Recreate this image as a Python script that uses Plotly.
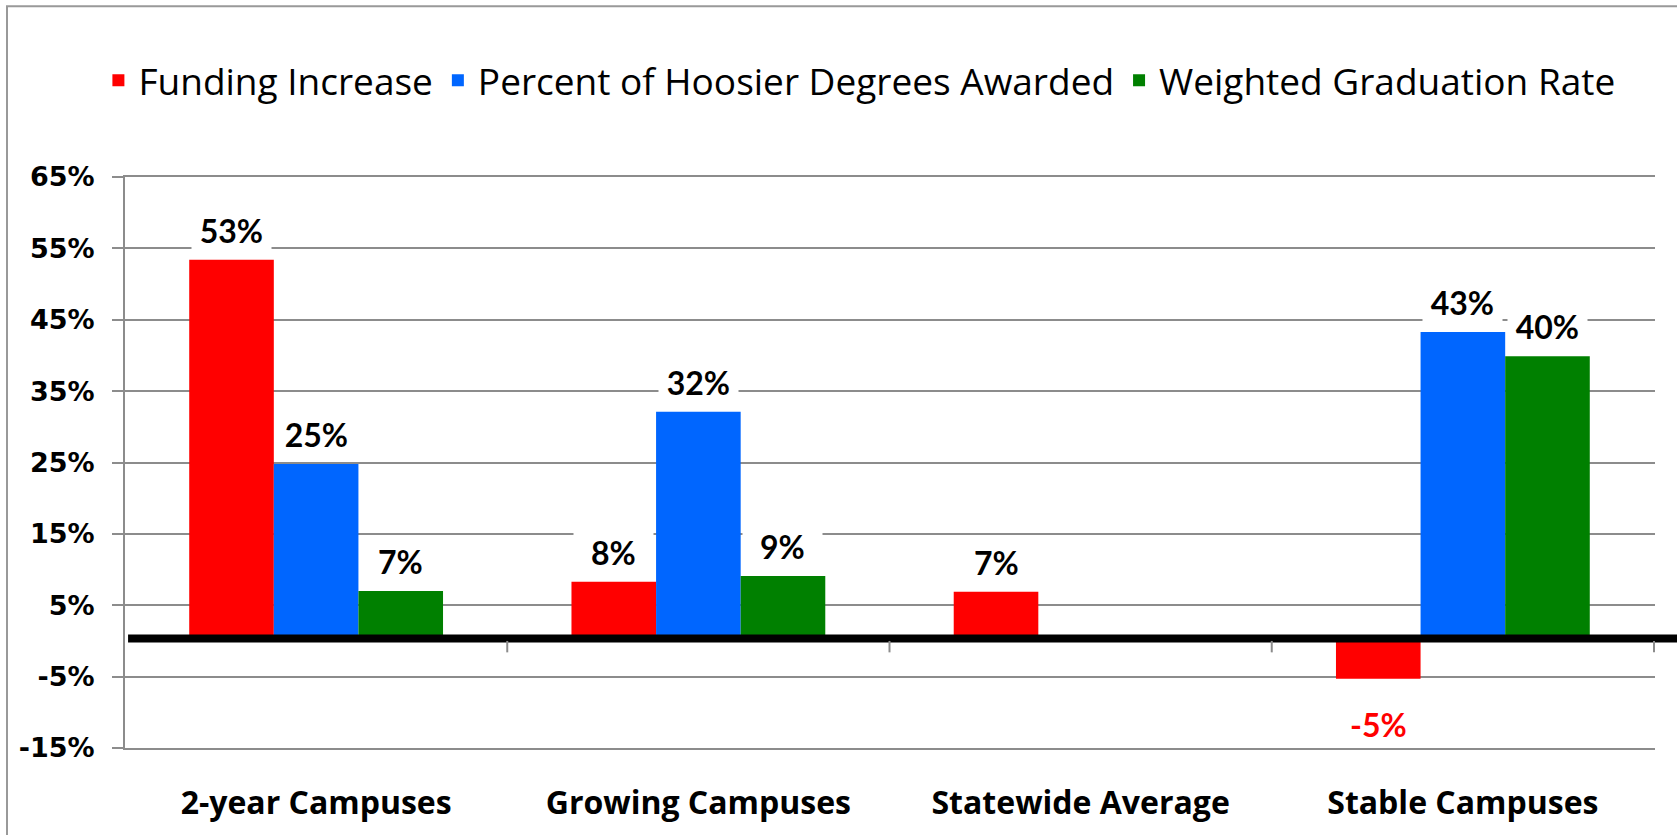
import plotly.graph_objects as go

categories = ["2-year Campuses", "Growing Campuses", "Statewide Average", "Stable Campuses"]
funding = [53.4, 8.3, 6.9, -5.3]
degrees = [24.8, 32.1, None, 43.3]
gradrate = [7.0, 9.1, None, 39.9]
tick_vals = [-15, -5, 5, 15, 25, 35, 45, 55, 65]
tick_text = [f"{v}%" for v in tick_vals]

series = [
    ("Funding Increase", funding, "#FF0000"),
    ("Percent of Hoosier Degrees Awarded", degrees, "#0066FF"),
    ("Weighted Graduation Rate", gradrate, "#008000"),
]

W, H = 1677, 835
L, R, T, B = 125, 22, 177, 83
pw = W - L - R
ph = H - T - B
GAP = 0.336
GRID = "#8c8c8c"

fig = go.Figure()
for name, vals, col in series:
    fig.add_trace(go.Bar(
        x=categories, y=vals, name=name,
        marker=dict(color=col, line=dict(width=0)),
    ))

# data labels with a white box, sitting over each bar
n = len(series)
bar_w = (1 - GAP) / n
for i, (name, vals, col) in enumerate(series):
    for j, v in enumerate(vals):
        if v is None:
            continue
        xpos = j - (1 - GAP) / 2 + bar_w * (i + 0.5)
        neg = v < 0
        fig.add_annotation(
            x=xpos, y=v, xref="x", yref="y",
            text=f"<b>{round(v)}%</b>",
            showarrow=False,
            yanchor="top" if neg else "bottom",
            yshift=-24 if neg else 8,
            bgcolor="white", width=bar_w * pw / len(categories) - 8,
            font=dict(family="Lato", size=32, color="#FF0000" if neg else "black"),
        )

shapes = []
# thick zero line
shapes.append(dict(type="line", xref="paper", yref="y", x0=0.002, x1=(W - L) / pw,
                   y0=0.35, y1=0.35, line=dict(color="black", width=8)))
# category divider ticks hanging off the zero line
for k in range(len(categories)):
    shapes.append(dict(type="line", xref="x", yref="y", x0=k + 0.5, x1=k + 0.5,
                       y0=0, y1=-1.6, line=dict(color=GRID, width=2)))
# outer frame
shapes.append(dict(type="rect", xref="paper", yref="paper",
                   x0=(7 - L) / pw, x1=1.2, y0=-0.3, y1=(H - B - 5) / ph,
                   line=dict(color="#999999", width=2), layer="below"))

fig.update_layout(
    width=W, height=H,
    margin=dict(l=L, r=R, t=T, b=B, pad=0),
    paper_bgcolor="white", plot_bgcolor="white",
    barmode="group", bargap=GAP, bargroupgap=0,
    shapes=shapes,
    showlegend=True,
    legend=dict(orientation="h", x=0.48, xanchor="center", y=(H - B - 80) / ph, yanchor="middle",
                font=dict(family="Open Sans", size=37, color="black"),
                itemwidth=30, traceorder="normal"),
)

fig.update_xaxes(
    showline=True, mirror=True, linecolor=GRID, linewidth=2,
    showgrid=False, ticks="",
    tickfont=dict(family="Open Sans", size=32, color="black"),
    ticklabelstandoff=26,
    tickmode="array", tickvals=categories, ticktext=[f"<b>{c}</b>" for c in categories],
)
fig.update_yaxes(
    range=[-15, 65], tickmode="array", tickvals=tick_vals, ticktext=[f"<b>{t}</b>" for t in tick_text],
    showgrid=True, gridcolor=GRID, gridwidth=2,
    showline=True, linecolor=GRID, linewidth=2,
    ticks="outside", ticklen=11, tickcolor=GRID, tickwidth=2,
    zeroline=False,
    tickfont=dict(family="DejaVu Sans", size=27, color="black"),
    ticklabelstandoff=12,
)

fig.write_html("out.html", config={"displayModeBar": False},
               post_script="document.body.style.margin='0px';")
